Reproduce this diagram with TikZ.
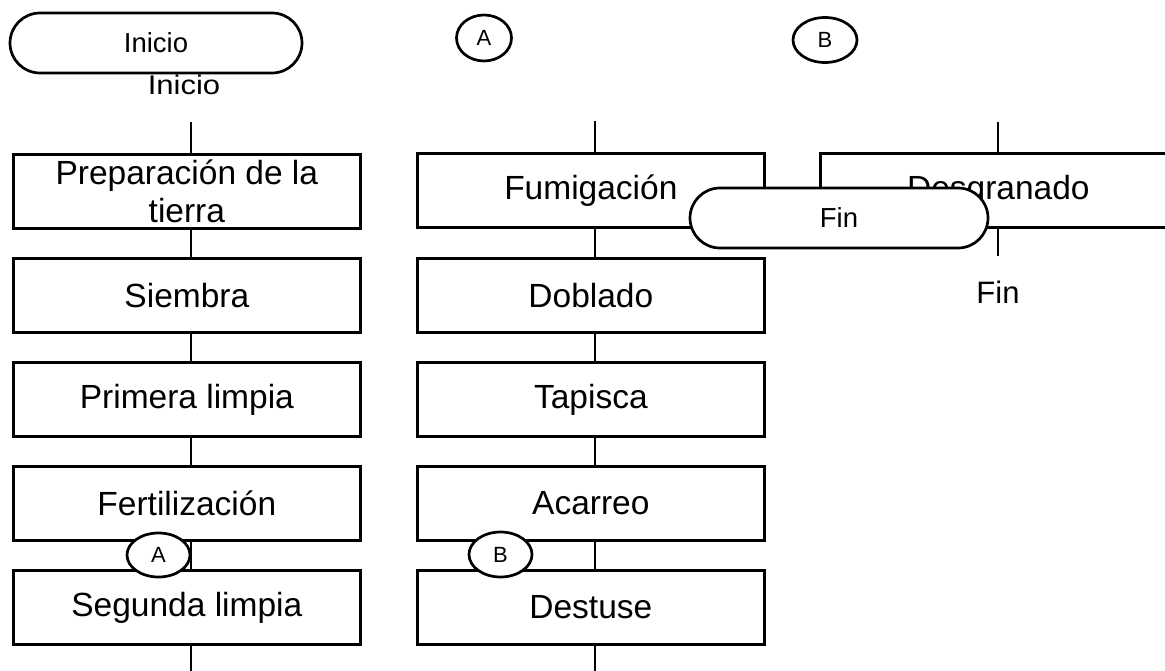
\documentclass[tikz,border=0pt]{standalone}
\usepackage{fontspec}
\setmainfont{Liberation Sans}
\usetikzlibrary{shapes.geometric}
\begin{document}
\begin{tikzpicture}[x=1pt,y=-1pt,line width=2.7pt,
  proc/.style={draw,fill=white,minimum width=347pt,minimum height=74pt,inner sep=0pt,
    font=\fontsize{33.5}{38}\selectfont,align=center,anchor=north west},
  term/.style={draw,fill=white,rounded corners=30pt,minimum height=60pt,inner sep=0pt,
    font=\fontsize{27.5}{30}\selectfont},
  conn/.style={draw,fill=white,ellipse,inner sep=0pt,font=\fontsize{22}{24}\selectfont},
  lbl/.style={inner sep=0pt,font=\fontsize{31}{34}\selectfont}
]
\useasboundingbox (0,0) rectangle (1165,671);
\clip (0,0) rectangle (1165,671);
% column 1
\node[proc] (p1) at (12,153) {Preparación de la\\tierra};
\node[proc] (p2) at (12,257) {Siembra};
\node[proc] (p3) at (12,361) {Primera limpia};
\node[proc] (p4) at (12,465) {Fertilización};
\node[proc] (p5) at (12,569) {Segunda limpia};
% column 2
\node[proc] (q1) at (416,152) {Fumigación};
\node[proc] (q2) at (416,257) {Doblado};
\node[proc] (q3) at (416,361) {Tapisca};
\node[proc] (q4) at (416,465) {Acarreo};
\node[proc] (q5) at (416,569) {Destuse};
% column 3
\node[proc] (r1) at (819,152) {\hspace*{9pt}Desgranado};
% connector ends
\coordinate (t1) at (191,122);
\coordinate (b1) at (191,672);
\coordinate (t2) at (595,121);
\coordinate (b2) at (595,672);
\coordinate (t3) at (998,122);
\coordinate (e3) at (998,256);
% connectors column 1
\draw (t1) -- (p1.north -| t1);
\draw (p1.south -| t1) -- (p2.north -| t1);
\draw (p2.south -| t1) -- (p3.north -| t1);
\draw (p3.south -| t1) -- (p4.north -| t1);
\draw (p4.south -| t1) -- (p5.north -| t1);
\draw (p5.south -| t1) -- (b1);
% connectors column 2
\draw (t2) -- (q1.north -| t2);
\draw (q1.south -| t2) -- (q2.north -| t2);
\draw (q2.south -| t2) -- (q3.north -| t2);
\draw (q3.south -| t2) -- (q4.north -| t2);
\draw (q4.south -| t2) -- (q5.north -| t2);
\draw (q5.south -| t2) -- (b2);
% connectors column 3
\draw (t3) -- (r1.north -| t3);
\draw (r1.south -| t3) -- (e3);
% terminators and labels
\node[term,minimum width=292pt] (ini) at (156,43) {Inicio};
\node[lbl,anchor=base,font=\fontsize{27}{30}\selectfont] (inil) at (184,95) {\addfontfeature{FakeStretch=1.15}Inicio};
\node[lbl,anchor=base] (finl) at (998,303) {Fin};
% off-page connectors
\node[conn,minimum width=55pt,minimum height=46pt] (ca1) at (484,38) {A};
\node[conn,minimum width=64pt,minimum height=45pt] (cb1) at (825,40) {B};
\node[conn,minimum width=63pt,minimum height=44pt] (ca2) at (158.5,555) {A};
\node[conn,minimum width=63pt,minimum height=45pt] (cb2) at (500.5,554.5) {B};
% Fin terminator on top
\node[term,minimum width=298pt] (fin) at (839,218) {Fin};
\end{tikzpicture}
\end{document}
